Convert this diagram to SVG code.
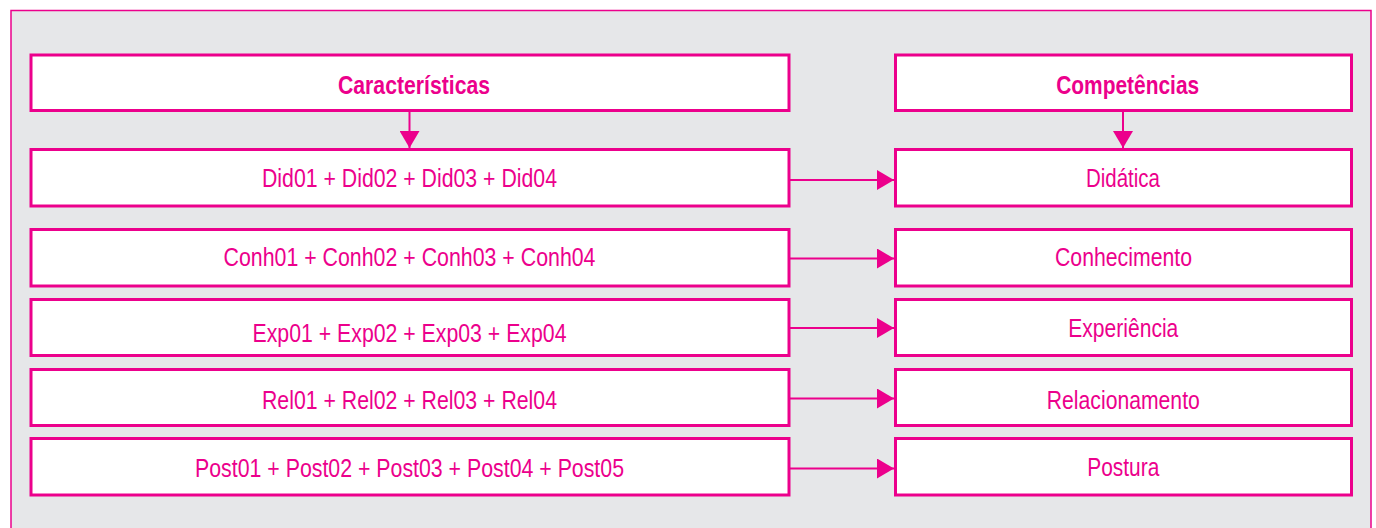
<svg xmlns="http://www.w3.org/2000/svg" width="1376" height="528" viewBox="0 0 1376 528">
  <defs>
    <style>
      .frame { fill: #E6E7E9; stroke: #EC008C; stroke-width: 1.5; }
      .box { fill: #FFFFFF; stroke: #EC008C; stroke-width: 3; }
      .lbl { font-family: "Liberation Sans", Arial, sans-serif; font-size: 25px; fill: #EC008C; text-anchor: middle; }
      .hdr { font-weight: bold; }
      .conn { stroke: #EC008C; stroke-width: 2; fill: none; }
    </style>
    <marker id="ah" markerUnits="userSpaceOnUse" markerWidth="18" markerHeight="20" refX="17" refY="10" orient="auto" viewBox="0 0 18 20">
      <path d="M0,0 L17,10 L0,20 Z" fill="#EC008C"/>
    </marker>
  </defs>
  <rect x="0" y="0" width="1376" height="528" fill="#FFFFFF"/>
  <rect class="frame" x="11" y="10.5" width="1360" height="530"/>

  <g id="connectors">
    <line class="conn" x1="409.5" y1="111" x2="409.5" y2="148" marker-end="url(#ah)"/>
    <line class="conn" x1="1123" y1="111" x2="1123" y2="148" marker-end="url(#ah)"/>
    <line class="conn" x1="789" y1="180" x2="894" y2="180" marker-end="url(#ah)"/>
    <line class="conn" x1="789" y1="258.5" x2="894" y2="258.5" marker-end="url(#ah)"/>
    <line class="conn" x1="789" y1="328" x2="894" y2="328" marker-end="url(#ah)"/>
    <line class="conn" x1="789" y1="398.5" x2="894" y2="398.5" marker-end="url(#ah)"/>
    <line class="conn" x1="789" y1="468.5" x2="894" y2="468.5" marker-end="url(#ah)"/>
  </g>

  <g id="caracteristicas">
    <rect class="box" x="31" y="55" width="758" height="55.5"/>
    <text class="lbl hdr" x="414" y="93.5" textLength="152" lengthAdjust="spacingAndGlyphs">Características</text>
  </g>
  <g id="did">
    <rect class="box" x="31" y="149.5" width="758" height="56.5"/>
    <text class="lbl" x="409.5" y="187" textLength="295" lengthAdjust="spacingAndGlyphs">Did01 + Did02 + Did03 + Did04</text>
  </g>
  <g id="conh">
    <rect class="box" x="31" y="229.5" width="758" height="56.5"/>
    <text class="lbl" x="409.5" y="266" textLength="372" lengthAdjust="spacingAndGlyphs">Conh01 + Conh02 + Conh03 + Conh04</text>
  </g>
  <g id="exp">
    <rect class="box" x="31" y="299.5" width="758" height="56"/>
    <text class="lbl" x="409.5" y="342" textLength="314" lengthAdjust="spacingAndGlyphs">Exp01 + Exp02 + Exp03 + Exp04</text>
  </g>
  <g id="rel">
    <rect class="box" x="31" y="369.5" width="758" height="56"/>
    <text class="lbl" x="409.5" y="409" textLength="295" lengthAdjust="spacingAndGlyphs">Rel01 + Rel02 + Rel03 + Rel04</text>
  </g>
  <g id="post">
    <rect class="box" x="31" y="438.5" width="758" height="56.5"/>
    <text class="lbl" x="409.5" y="476.5" textLength="429" lengthAdjust="spacingAndGlyphs">Post01 + Post02 + Post03 + Post04 + Post05</text>
  </g>

  <g id="competencias">
    <rect class="box" x="895.5" y="55" width="456" height="55.5"/>
    <text class="lbl hdr" x="1127.7" y="94" textLength="143" lengthAdjust="spacingAndGlyphs">Competências</text>
  </g>
  <g id="didatica">
    <rect class="box" x="895.5" y="149.5" width="456" height="56.5"/>
    <text class="lbl" x="1123" y="187" textLength="74" lengthAdjust="spacingAndGlyphs">Didática</text>
  </g>
  <g id="conhecimento">
    <rect class="box" x="895.5" y="229.5" width="456" height="56.5"/>
    <text class="lbl" x="1123.5" y="266" textLength="137" lengthAdjust="spacingAndGlyphs">Conhecimento</text>
  </g>
  <g id="experiencia">
    <rect class="box" x="895.5" y="299.5" width="456" height="56"/>
    <text class="lbl" x="1123.3" y="337" textLength="110" lengthAdjust="spacingAndGlyphs">Experiência</text>
  </g>
  <g id="relacionamento">
    <rect class="box" x="895.5" y="369.5" width="456" height="56"/>
    <text class="lbl" x="1123.3" y="409" textLength="153" lengthAdjust="spacingAndGlyphs">Relacionamento</text>
  </g>
  <g id="postura">
    <rect class="box" x="895.5" y="438.5" width="456" height="56.5"/>
    <text class="lbl" x="1123.3" y="476" textLength="72" lengthAdjust="spacingAndGlyphs">Postura</text>
  </g>
</svg>
